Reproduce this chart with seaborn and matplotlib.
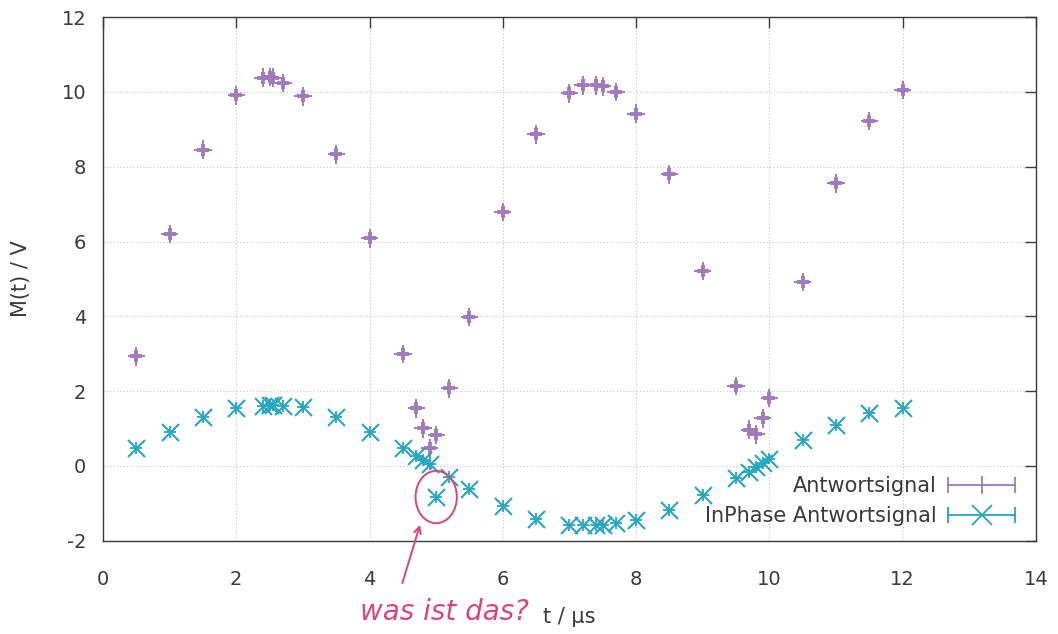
import matplotlib
matplotlib.use("Agg")
import matplotlib.pyplot as plt
from matplotlib.patches import Ellipse
from matplotlib.lines import Line2D
from matplotlib.legend_handler import HandlerBase
import numpy as np
import pandas as pd
import seaborn as sns

# Measurement times in microseconds
t = [0.5, 1.0, 1.5, 2.0, 2.4, 2.5, 2.55, 2.7, 3.0, 3.5, 4.0, 4.5, 4.7, 4.8,
     4.9, 5.0, 5.2, 5.5, 6.0, 6.5, 7.0, 7.2, 7.4, 7.5, 7.7, 8.0, 8.5, 9.0,
     9.5, 9.7, 9.8, 9.9, 10.0, 10.5, 11.0, 11.5, 12.0]

# Response signal amplitude in volts
antwort = [2.93, 6.20, 8.46, 9.91, 10.38, 10.40, 10.38, 10.24, 9.88, 8.33,
           6.09, 2.99, 1.54, 1.01, 0.47, 0.83, 2.08, 3.98, 6.79, 8.87, 9.96,
           10.18, 10.18, 10.15, 10.00, 9.42, 7.80, 5.21, 2.14, 0.97, 0.85,
           1.27, 1.82, 4.92, 7.56, 9.22, 10.05]

# In-phase component of the response signal in volts
inphase = [0.47, 0.92, 1.30, 1.54, 1.60, 1.63, 1.63, 1.60, 1.57, 1.30, 0.92,
           0.47, 0.27, 0.16, 0.05, -0.83, -0.29, -0.62, -1.07, -1.42, -1.58,
           -1.58, -1.58, -1.58, -1.53, -1.44, -1.18, -0.77, -0.32, -0.15,
           -0.02, 0.09, 0.20, 0.69, 1.10, 1.42, 1.54]

labels = ["Antwortsignal", "InPhase Antwortsignal"]
x_ticks = [0, 2, 4, 6, 8, 10, 12, 14]
y_ticks = [-2, 0, 2, 4, 6, 8, 10, 12]

# Measurement uncertainties
t_err = 0.13
antwort_err = 0.25
t_err_ip = 0.09
inphase_err = 0.16

purple = "#a07abb"
cyan = "#26a6bf"
pink = "#d8457c"
dark = "#3a3a3a"

sns.set_theme(style="white")
plt.rcParams["font.family"] = ["DejaVu Sans"]

df_a = pd.DataFrame({"t": t, "M": antwort})
df_i = pd.DataFrame({"t": t, "M": inphase})

fig = plt.figure(figsize=(10.58, 6.34), dpi=100)
ax = fig.add_axes([0.0974, 0.147, 0.8816, 0.826])

# Error arms
ax.errorbar(t, antwort, xerr=t_err, yerr=antwort_err, fmt="none",
            ecolor=purple, elinewidth=1.4, capsize=0, zorder=3)
ax.errorbar(t, inphase, xerr=t_err_ip, yerr=inphase_err, fmt="none",
            ecolor=cyan, elinewidth=1.3, capsize=0, zorder=3)

# Point markers
sns.scatterplot(data=df_a, x="t", y="M", marker="+", s=80, color=purple,
                linewidth=2.8, ax=ax, zorder=4, legend=False)
sns.scatterplot(data=df_i, x="t", y="M", marker="x", s=150, color=cyan,
                linewidth=1.5, ax=ax, zorder=4, legend=False)

ax.set_xlim(0, 14)
ax.set_ylim(-2, 12)
ax.set_xticks(x_ticks)
ax.set_yticks(y_ticks)
ax.set_xticklabels([str(v) for v in x_ticks])
ax.set_yticklabels([str(v) for v in y_ticks])

ax.grid(True, color="#c4c4c4", linestyle=(0, (1, 2)), linewidth=0.8)
for sp in ax.spines.values():
    sp.set_color(dark)
    sp.set_linewidth(1.0)
ax.tick_params(axis="both", direction="in", length=8, width=1.0,
               colors=dark, labelcolor=dark, labelsize=14,
               top=True, right=True)
ax.tick_params(axis="x", pad=21)
ax.tick_params(axis="y", pad=12)

ax.set_xlabel("t / μs", fontsize=15, color=dark, labelpad=13)
ax.set_ylabel("M(t) / V", fontsize=15, color=dark, labelpad=22)


class ErrorbarKey(HandlerBase):
    """Legend key: horizontal error bar with end caps and a centre marker."""

    def __init__(self, marker, ms, **kw):
        super().__init__(**kw)
        self.marker = marker
        self.ms = ms

    def create_artists(self, legend, orig_handle, xdescent, ydescent,
                       width, height, fontsize, trans):
        c = orig_handle.get_color()
        y = height / 2 - ydescent
        x0, x1 = -xdescent, -xdescent + width
        bar = Line2D([x0, x1], [y, y], color=c, lw=1.3)
        caps = Line2D([x0, x1], [y, y], ls="none", marker="|", ms=11,
                      mew=1.3, color=c)
        mk = Line2D([(x0 + x1) / 2], [y], ls="none", marker=self.marker,
                    ms=self.ms, mew=1.3, color=c)
        for a in (bar, caps, mk):
            a.set_transform(trans)
        return [bar, caps, mk]


h_a = Line2D([], [], color=purple, label=labels[0])
h_i = Line2D([], [], color=cyan, label=labels[1])
leg = ax.legend(handles=[h_a, h_i], loc="lower right",
                bbox_to_anchor=(1.0, -0.012), frameon=False, markerfirst=False,
                fontsize=15, handlelength=3.2, labelspacing=0.5,
                handletextpad=0.55, borderaxespad=0.6,
                handler_map={h_a: ErrorbarKey("|", 13),
                             h_i: ErrorbarKey("x", 14)})
for txt in leg.get_texts():
    txt.set_color(dark)

# Handwritten remark on the outlier
ax.add_patch(Ellipse((5.0, -0.83), width=0.62, height=1.4, fill=False,
                     edgecolor=pink, linewidth=1.4, zorder=5))
ax.annotate("", xy=(4.77, -1.5), xycoords="data",
            xytext=(4.48, -3.2), textcoords="data",
            arrowprops=dict(arrowstyle="->", color=pink, lw=1.4),
            annotation_clip=False)
fig.text(0.42, 0.035, "was ist das?", color=pink, fontsize=20,
         style="italic", ha="center", va="center")

fig.savefig("out.png", dpi=100)
